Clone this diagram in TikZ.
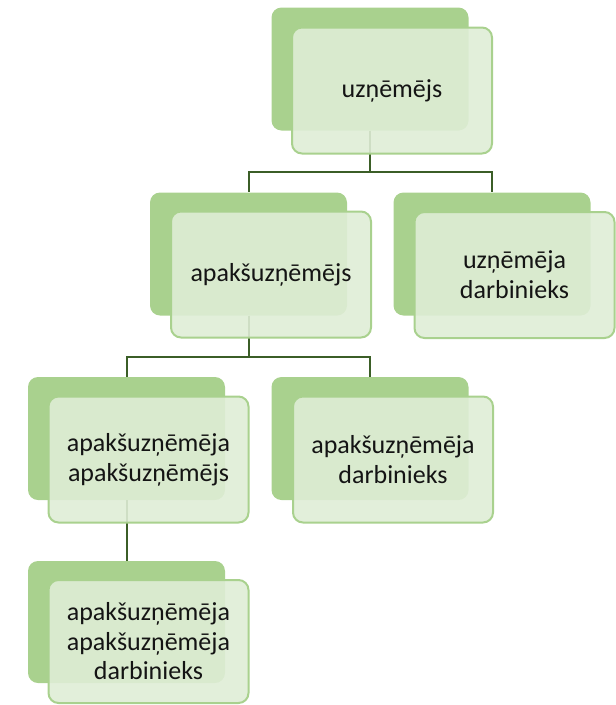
\documentclass[tikz,border=0pt]{standalone}
\usepackage{fontspec}
\setmainfont{Carlito}
\definecolor{backgreen}{HTML}{A9D18E}
\definecolor{frontgreen}{RGB}{223,237,214}
\definecolor{conngreen}{HTML}{3B5E27}
\definecolor{txtcol}{HTML}{141414}
\tikzset{
  backbox/.style={draw=none, fill=backgreen, rounded corners=10pt,
    minimum width=197pt, minimum height=123pt, inner sep=0pt},
  frontbox/.style={draw=backgreen, line width=2pt, fill=frontgreen,
    fill opacity=0.9, draw opacity=1, text opacity=1, rounded corners=10pt,
    minimum width=200pt, minimum height=126pt, inner sep=0pt, align=center,
    font=\fontsize{26}{30}\selectfont, text=txtcol},
  conn/.style={draw=conngreen, line width=2pt}
}
\begin{document}
\begin{tikzpicture}[x=1pt,y=-1pt]
\useasboundingbox (0,0) rectangle (616,705);
% back boxes
\node[backbox] (tB) at (370,69) {};
\node[backbox] (bB) at (248.5,254) {};
\node[backbox] (cB) at (492,254) {};
\node[backbox] (dB) at (126.5,438.5) {};
\node[backbox] (eB) at (370,438.5) {};
\node[backbox, minimum height=122pt] (fB) at (126.5,622) {};
% connectors
\coordinate (j1) at (370,172);
\coordinate (j2) at (248.5,357);
\draw[conn] (tB.south) -- (j1) -| (bB.north);
\draw[conn] (j1) -| (cB.north);
\draw[conn] (bB.south) -- (j2) -| (dB.north);
\draw[conn] (j2) -| (eB.north);
\draw[conn] (dB.south) -- (fB.north);
% front boxes
\node[frontbox] (t) at (392,90.5) {uzņēmējs};
\node[frontbox] (b) at (271,274.5) {apakšuzņēmējs};
\node[frontbox] (c) at (514.5,275) {uzņēmēja\\darbinieks};
\node[frontbox] (d) at (148.5,459.5) {apakšuzņēmēja\\apakšuzņēmējs};
\node[frontbox] (e) at (393,459.5) {apakšuzņēmēja\\darbinieks};
\node[frontbox, minimum height=123pt, font=\fontsize{26}{29.5}\selectfont] (f) at (148.5,641.5) {apakšuzņēmēja\\apakšuzņēmēja\\darbinieks};
\end{tikzpicture}
\end{document}
